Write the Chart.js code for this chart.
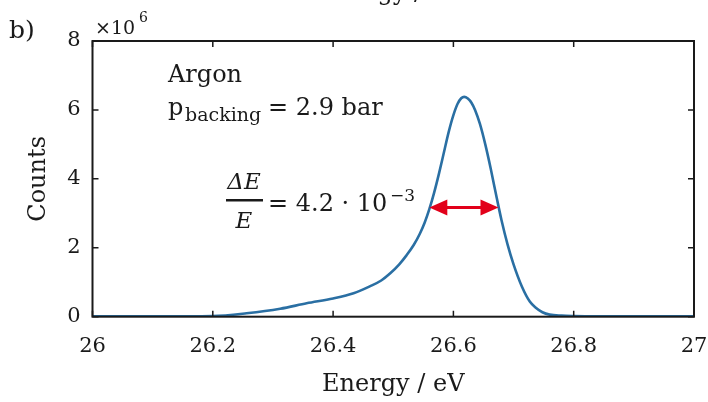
<!DOCTYPE html>
<html>
<head>
<meta charset="utf-8">
<script src="https://cdn.jsdelivr.net/npm/chart.js@4.4.1/dist/chart.umd.min.js"></script>
<style>
  html, body { margin: 0; padding: 0; background: #fff; }
  #wrap { width: 708px; height: 402px; }
</style>
</head>
<body>
<div id="wrap"><canvas id="c" width="708" height="402"></canvas></div>
<script>
// energy in eV, counts in units of 1e6
const ENERGY = [26.00, 26.10, 26.20, 26.256, 26.312, 26.356, 26.40, 26.434, 26.461, 26.48,
  26.495, 26.51, 26.522, 26.534, 26.544, 26.552, 26.560, 26.568, 26.576, 26.584,
  26.592, 26.600, 26.607, 26.613, 26.618, 26.624, 26.63, 26.636, 26.644, 26.653,
  26.662, 26.672, 26.680, 26.690, 26.700, 26.714, 26.727, 26.737, 26.748, 26.76,
  26.78, 26.80, 26.90, 27.00];
const COUNTS = [0.01, 0.01, 0.02, 0.10, 0.23, 0.39, 0.53, 0.68, 0.88, 1.05,
  1.26, 1.52, 1.78, 2.08, 2.40, 2.72, 3.12, 3.60, 4.15, 4.75,
  5.35, 5.85, 6.18, 6.34, 6.38, 6.33, 6.21, 6.00, 5.60, 5.00,
  4.30, 3.45, 2.80, 2.10, 1.52, 0.87, 0.44, 0.26, 0.13, 0.06,
  0.03, 0.02, 0.01, 0.01];
const X_TICKS = [26, 26.2, 26.4, 26.6, 26.8, 27];
const Y_TICKS = [0, 2, 4, 6, 8];
const FWHM_ENERGY = [26.56, 26.675];
const FWHM_LEVEL = 3.17;

const SERIF = '"DejaVu Serif", "Liberation Serif", serif';
const INK = '#1a1a1a';
const LINE_BLUE = '#2a6fa3';
const ARROW_RED = '#e2001a';

function drawArrowHead(ctx, x, y, dir) {
  ctx.beginPath();
  ctx.moveTo(x, y);
  ctx.lineTo(x - dir * 18, y - 8);
  ctx.lineTo(x - dir * 18, y + 8);
  ctx.closePath();
  ctx.fill();
}

const decor = {
  id: 'decor',
  afterDatasetsDraw(chart) {
    const ctx = chart.ctx;
    const a = chart.chartArea;
    const xs = chart.scales.x, ys = chart.scales.y;
    ctx.save();

    // box
    ctx.strokeStyle = INK;
    ctx.lineWidth = 2;
    ctx.strokeRect(a.left, a.top, a.right - a.left, a.bottom - a.top);

    // inward ticks on all four sides
    ctx.lineWidth = 1.5;
    X_TICKS.forEach(v => {
      const px = xs.getPixelForValue(v);
      ctx.beginPath();
      ctx.moveTo(px, a.bottom); ctx.lineTo(px, a.bottom - 6);
      ctx.moveTo(px, a.top); ctx.lineTo(px, a.top + 6);
      ctx.stroke();
    });
    Y_TICKS.forEach(v => {
      const py = ys.getPixelForValue(v);
      ctx.beginPath();
      ctx.moveTo(a.left, py); ctx.lineTo(a.left + 6, py);
      ctx.moveTo(a.right, py); ctx.lineTo(a.right - 6, py);
      ctx.stroke();
    });

    // FWHM arrow
    const x1 = xs.getPixelForValue(FWHM_ENERGY[0]);
    const x2 = xs.getPixelForValue(FWHM_ENERGY[1]);
    const ya = ys.getPixelForValue(FWHM_LEVEL);
    ctx.strokeStyle = ARROW_RED;
    ctx.fillStyle = ARROW_RED;
    ctx.lineWidth = 3;
    ctx.beginPath();
    ctx.moveTo(x1 + 10, ya); ctx.lineTo(x2 - 10, ya);
    ctx.stroke();
    drawArrowHead(ctx, x1, ya, -1);
    drawArrowHead(ctx, x2, ya, 1);

    // texts
    ctx.fillStyle = INK;
    ctx.textBaseline = 'alphabetic';
    ctx.textAlign = 'left';
    ctx.font = '25px ' + SERIF;
    ctx.fillText('b)', 9, 38);
    ctx.font = '24px ' + SERIF;
    ctx.fillText('Argon', 168, 82);
    ctx.fillText('p', 168, 115);
    ctx.fillText('= 2.9 bar', 268, 115);
    ctx.font = '19px ' + SERIF;
    ctx.fillText('backing', 185, 121);

    // x10^6
    ctx.font = '19px ' + SERIF;
    ctx.fillText('\u00d710', 95, 34);
    ctx.font = '14px ' + SERIF;
    ctx.fillText('6', 139, 22);

    // fraction
    ctx.font = 'italic 23px ' + SERIF;
    ctx.textAlign = 'center';
    ctx.fillText('\u0394E', 244, 189);
    ctx.fillText('E', 244, 228);
    ctx.fillRect(226, 199, 37, 2.5);
    ctx.textAlign = 'left';
    ctx.font = '24px ' + SERIF;
    ctx.fillText('= 4.2 \u00b7 10', 268, 211);
    ctx.font = '17px ' + SERIF;
    ctx.fillText('\u22123', 390, 201);

    // cropped title of the panel above
    ctx.font = '24px ' + SERIF;
    ctx.textAlign = 'center';
    ctx.fillText('Energy / eV', 390, 0);

    ctx.restore();
  }
};

new Chart(document.getElementById('c'), {
  type: 'line',
  data: {
    datasets: [{
      data: ENERGY.map((e, i) => ({ x: e, y: COUNTS[i] })),
      borderColor: LINE_BLUE,
      borderWidth: 2.6,
      pointRadius: 0,
      fill: false,
      cubicInterpolationMode: 'monotone'
    }]
  },
  options: {
    responsive: false,
    animation: false,
    devicePixelRatio: 1,
    layout: { padding: { left: 0, right: 14, top: 41, bottom: 0 } },
    plugins: { legend: { display: false }, tooltip: { enabled: false } },
    scales: {
      x: {
        type: 'linear',
        min: 26, max: 27,
        afterBuildTicks: s => { s.ticks = X_TICKS.map(v => ({ value: v })); },
        afterFit: s => { s.height = 85.3; s.paddingLeft = 0; s.paddingRight = 0; },
        grid: { display: false, drawTicks: false },
        border: { display: false },
        ticks: { color: INK, padding: 17, font: { family: SERIF, size: 21 }, maxRotation: 0,
          callback: v => String(v) },
        title: { display: true, text: 'Energy / eV', color: INK, font: { family: SERIF, size: 24 },
          padding: { top: 0, bottom: 3 } }
      },
      y: {
        min: 0, max: 8,
        afterBuildTicks: s => { s.ticks = Y_TICKS.map(v => ({ value: v })); },
        afterFit: s => { s.width = 92.5; s.paddingTop = 0; s.paddingBottom = 0; },
        grid: { display: false, drawTicks: false },
        border: { display: false },
        ticks: { color: INK, padding: 12, font: { family: SERIF, size: 21 }, callback: v => String(v) },
        title: { display: true, text: 'Counts', color: INK, font: { family: SERIF, size: 24 },
          padding: { top: 24, bottom: 0 } }
      }
    }
  },
  plugins: [decor]
});
</script>
</body>
</html>
